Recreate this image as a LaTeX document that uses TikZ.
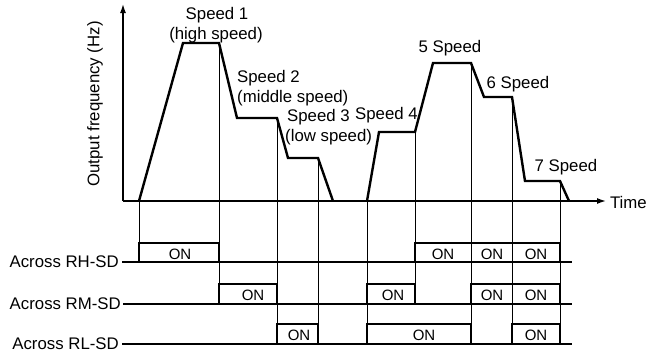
\documentclass[tikz,border=0pt]{standalone}
\usepackage{fontspec}
\setmainfont{Liberation Sans}
\usetikzlibrary{arrows.meta}
\begin{document}
\begin{tikzpicture}[x=1pt,y=-1pt,
  axis/.style={line width=1.4pt,-{Latex[length=9pt,width=6pt]}},
  profile/.style={line width=2.4pt,line join=miter},
  guide/.style={line width=0.8pt},
  pulse/.style={line width=1.1pt},
  base/.style={line width=1.4pt},
  lbl/.style={font=\fontsize{16.8}{18}\selectfont,inner sep=0pt},
  onlbl/.style={font=\fontsize{15}{16}\selectfont,inner sep=0pt}]
\useasboundingbox (0,0) rectangle (649,356);
% axes
\coordinate (o) at (123,201);
\coordinate (ytop) at (123,4);
\coordinate (xend) at (606,201);
\draw[axis] (o) -- (ytop);
\draw[axis] (o) -- (xend);
\node[lbl,anchor=east] (time) at (647,202) {Time};
\node[lbl,rotate=90] (ylab) at (95,104) {Output frequency (Hz)};
% profiles
\draw[profile] (139,201) -- (183,43) -- (219,43) -- (237,118) -- (277,118) -- (288,158) -- (318,158) -- (333,201);
\draw[profile] (367,201) -- (379,132) -- (415,132) -- (433,63) -- (471,63) -- (484,97) -- (512,97) -- (525,181) -- (560,181) -- (569,201);
% guides
\draw[guide] (139,201) -- (139,262);
\draw[guide] (219,43) -- (219,304);
\draw[guide] (277,118) -- (277,344);
\draw[guide] (318,158) -- (318,344);
\draw[guide] (367,201) -- (367,344);
\draw[guide] (415,132) -- (415,304);
\draw[guide] (471,63) -- (471,344);
\draw[guide] (512,97) -- (512,344);
\draw[guide] (560,181) -- (560,344);
% baselines
\node[lbl,anchor=east] (rh) at (119,262) {Across RH-SD};
\node[lbl,anchor=east] (rm) at (121,304) {Across RM-SD};
\node[lbl,anchor=east] (rl) at (119,344) {Across RL-SD};
\coordinate (rhe) at (572,262);
\coordinate (rme) at (572,304);
\coordinate (rle) at (572,344);
\draw[base] ([xshift=3pt]rh.east) -- (rhe);
\draw[base] ([xshift=2pt]rm.east) -- (rme);
\draw[base] ([xshift=3pt]rl.east) -- (rle);
% pulses
\draw[pulse] (139,262) -- (139,243) -- (219,243) -- (219,262);
\draw[pulse] (415,262) -- (415,243) -- (560,243) -- (560,262);
\draw[pulse] (219,304) -- (219,284) -- (277,284) -- (277,304);
\draw[pulse] (367,304) -- (367,284) -- (415,284) -- (415,304);
\draw[pulse] (471,304) -- (471,284) -- (560,284) -- (560,304);
\draw[pulse] (277,344) -- (277,324) -- (318,324) -- (318,344);
\draw[pulse] (367,344) -- (367,324) -- (471,324) -- (471,344);
\draw[pulse] (512,344) -- (512,324) -- (560,324) -- (560,344);
% ON labels
\node[onlbl] (on1) at (180,254) {ON};
\node[onlbl] (on2) at (443,254) {ON};
\node[onlbl] (on3) at (492,254) {ON};
\node[onlbl] (on4) at (536,254) {ON};
\node[onlbl] (on5) at (253,295) {ON};
\node[onlbl] (on6) at (393,295) {ON};
\node[onlbl] (on7) at (492,295) {ON};
\node[onlbl] (on8) at (536,295) {ON};
\node[onlbl] (on9) at (299,335) {ON};
\node[onlbl] (on10) at (424,335) {ON};
\node[onlbl] (on11) at (536,335) {ON};
% speed labels
\node[lbl] (s1) at (217,15) {Speed 1};
\node[lbl] (s1b) at (216,35) {(high speed)};
\node[lbl,anchor=west] (s2) at (237,78) {Speed 2};
\node[lbl,anchor=west] (s2b) at (237,98) {(middle speed)};
\node[lbl,anchor=west] (s3) at (287,117) {Speed 3};
\node[lbl,anchor=west] (s3b) at (285,137) {(low speed)};
\node[lbl,anchor=west] (s4) at (355,115) {Speed 4};
\node[lbl] (s5) at (450,48) {5 Speed};
\node[lbl] (s6) at (518,84) {6 Speed};
\node[lbl] (s7) at (566,167) {7 Speed};
\end{tikzpicture}
\end{document}
